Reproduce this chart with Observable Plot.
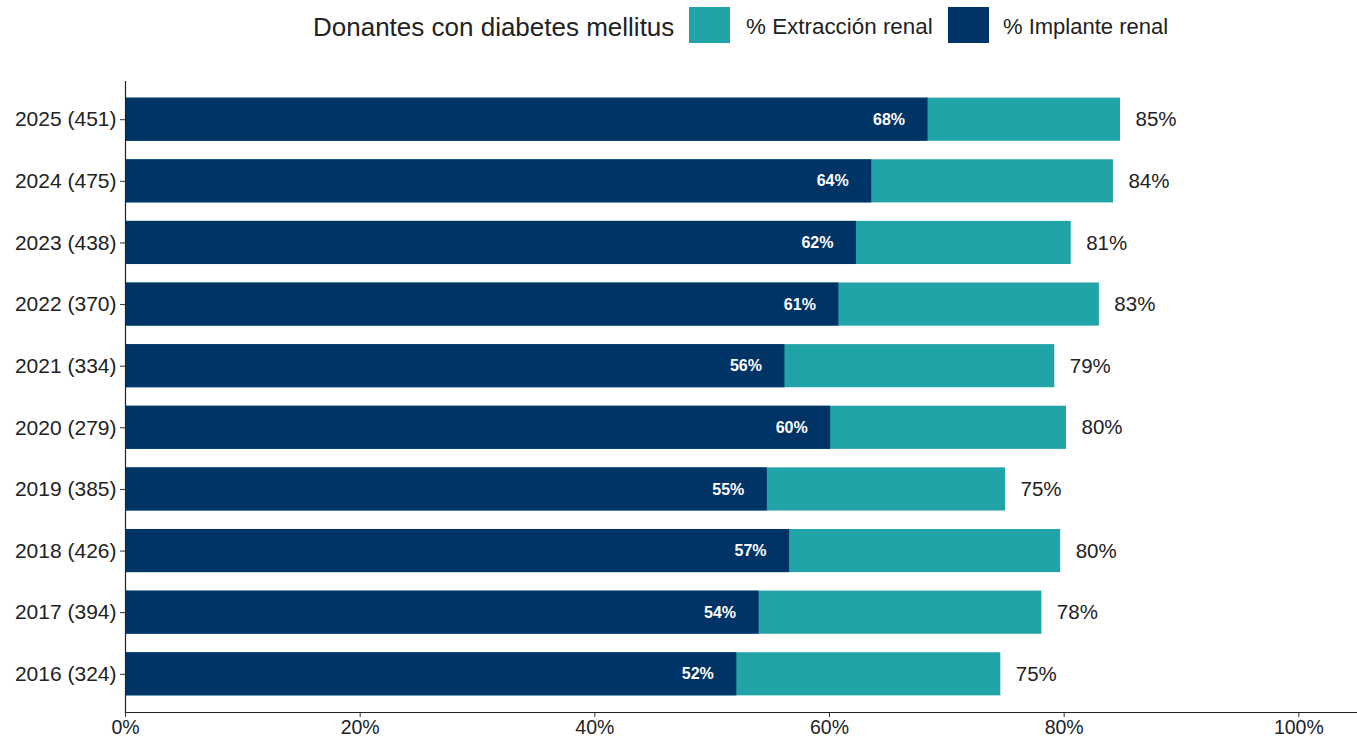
<!DOCTYPE html>
<html>
<head>
<meta charset="utf-8">
<script src="https://cdn.jsdelivr.net/npm/d3@7"></script>
<script src="https://cdn.jsdelivr.net/npm/@observablehq/plot@0.6"></script>
<style>
  html, body { margin: 0; padding: 0; background: #fff; }
  body { width: 1357px; height: 738px; position: relative; overflow: hidden;
         font-family: "Liberation Sans", Arial, sans-serif; color: #222; }
  #legend { position: absolute; left: 0; top: 0; width: 1357px; height: 55px; }
  #legend .t { position: absolute; top: 27px; transform: translateY(-50%); white-space: nowrap; }
  #legend .sw { position: absolute; top: 7px; width: 41px; height: 36px; }
  #chart { position: absolute; left: 0; top: 55px; }
  #chart svg { overflow: visible; }
</style>
</head>
<body>
<div id="legend"></div>
<div id="chart"></div>
<script>
// ---- data ----
const years = ["2025 (451)", "2024 (475)", "2023 (438)", "2022 (370)", "2021 (334)",
               "2020 (279)", "2019 (385)", "2018 (426)", "2017 (394)", "2016 (324)"];
const implante   = [68.4, 63.6, 62.3, 60.8, 56.2, 60.1, 54.7, 56.6, 54.0, 52.1];
const extraccion = [84.8, 84.2, 80.6, 83.0, 79.2, 80.2, 75.0, 79.7, 78.1, 74.6];
const xTicks = [0, 20, 40, 60, 80, 100];
const legendTitle = "Donantes con diabetes mellitus";
const seriesNames = ["% Extracción renal", "% Implante renal"];
const seriesColors = ["#20A4A8", "#003366"];

const data = years.map((y, i) => ({y, imp: implante[i], ext: extraccion[i]}));

// ---- legend ----
const lg = document.getElementById("legend");
function addText(txt, left, size) {
  const s = document.createElement("span");
  s.className = "t"; s.textContent = txt;
  s.style.left = left + "px"; s.style.fontSize = size + "px";
  lg.appendChild(s);
}
function addSwatch(color, left) {
  const d = document.createElement("div");
  d.className = "sw"; d.style.left = left + "px"; d.style.background = color;
  lg.appendChild(d);
}
addText(legendTitle, 313, 26);
addSwatch(seriesColors[0], 689);
addText(seriesNames[0], 746, 22.4);
addSwatch(seriesColors[1], 948);
addText(seriesNames[1], 1003, 22);

// ---- chart ----
const chart = Plot.plot({
  width: 1357,
  height: 683,
  marginLeft: 125,
  marginRight: 0,
  marginTop: 26,
  marginBottom: 26,
  style: {fontFamily: "'Liberation Sans', Arial, sans-serif", color: "#222", background: "white"},
  x: {domain: [0, 105]},
  y: {domain: years, paddingInner: 0.3, paddingOuter: 0.27, round: false},
  marks: [
    Plot.barX(data, {y: "y", x: "ext", fill: seriesColors[0]}),
    Plot.barX(data, {y: "y", x: "imp", fill: seriesColors[1]}),
    Plot.text(data, {y: "y", x: "imp", text: d => Math.round(d.imp) + "%",
      textAnchor: "end", dx: -23, fill: "white", fontWeight: "bold", fontSize: 16}),
    Plot.text(data, {y: "y", x: "ext", text: d => Math.round(d.ext) + "%",
      textAnchor: "start", dx: 15, fill: "#222", fontSize: 20.5}),
    Plot.axisY({tickSize: 5, tickPadding: 4, fontSize: 21, label: null, stroke: "#333", fill: "#222"}),
    Plot.axisX({ticks: xTicks, tickFormat: d => d + "%", tickSize: 5, tickPadding: 3,
      fontSize: 19.5, label: null, stroke: "#333", fill: "#222"}),
    Plot.ruleX([0], {stroke: "#222", strokeWidth: 1.2}),
    Plot.frame({anchor: "bottom", stroke: "#222", strokeWidth: 1.2})
  ]
});
document.getElementById("chart").appendChild(chart);
</script>
</body>
</html>
